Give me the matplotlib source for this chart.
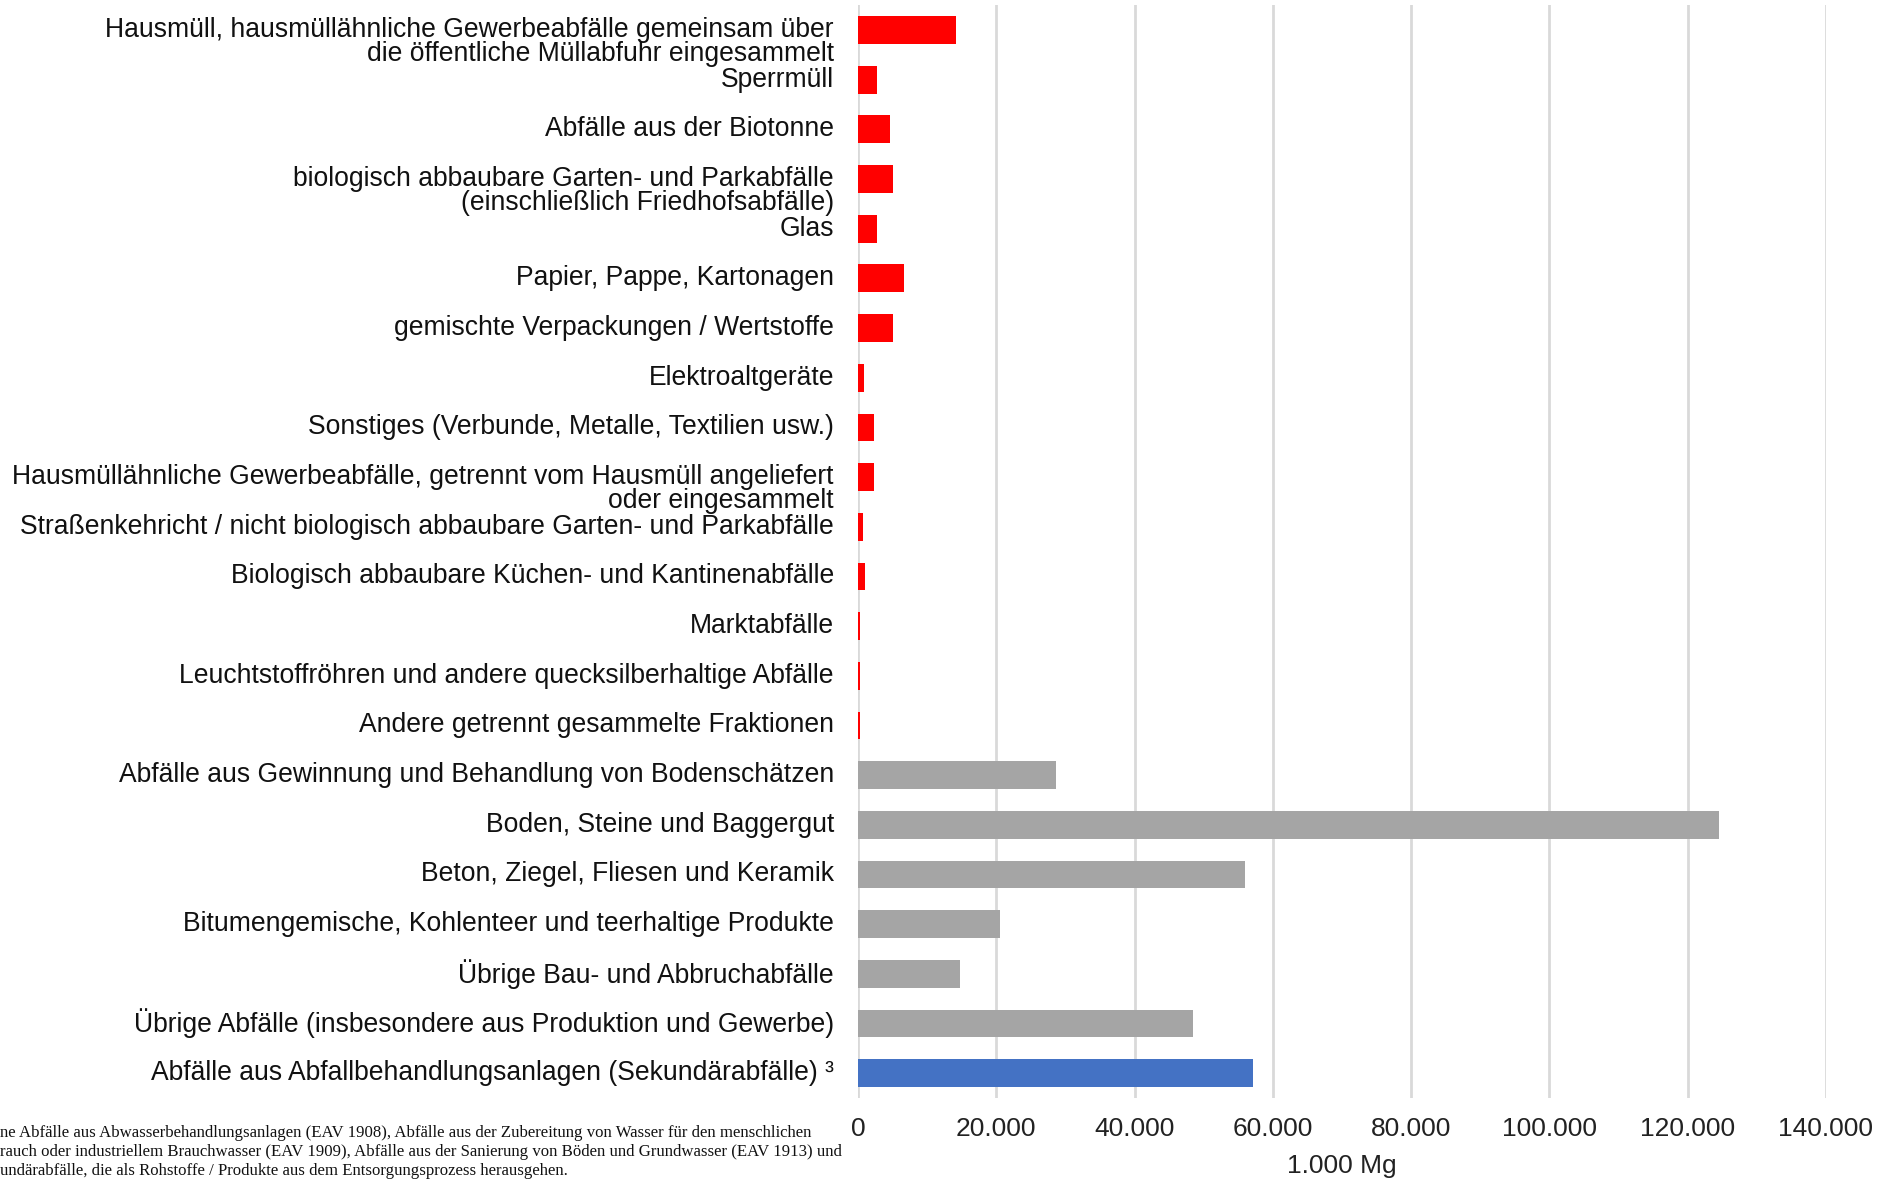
import matplotlib.pyplot as plt
from matplotlib.ticker import FuncFormatter
import matplotlib.transforms as mtransforms

# categories (first line, optional second line)
labels = [
    "Hausmüll, hausmüllähnliche Gewerbeabfälle gemeinsam über\ndie öffentliche Müllabfuhr eingesammelt",
    "Sperrmüll",
    "Abfälle aus der Biotonne",
    "biologisch abbaubare Garten- und Parkabfälle\n(einschließlich Friedhofsabfälle)",
    "Glas",
    "Papier, Pappe, Kartonagen",
    "gemischte Verpackungen / Wertstoffe",
    "Elektroaltgeräte",
    "Sonstiges (Verbunde, Metalle, Textilien usw.)",
    "Hausmüllähnliche Gewerbeabfälle, getrennt vom Hausmüll angeliefert\noder eingesammelt",
    "Straßenkehricht / nicht biologisch abbaubare Garten- und Parkabfälle",
    "Biologisch abbaubare Küchen- und Kantinenabfälle",
    "Marktabfälle",
    "Leuchtstoffröhren und andere quecksilberhaltige Abfälle",
    "Andere getrennt gesammelte Fraktionen",
    "Abfälle aus Gewinnung und Behandlung von Bodenschätzen",
    "Boden, Steine und Baggergut",
    "Beton, Ziegel, Fliesen und Keramik",
    "Bitumengemische, Kohlenteer und teerhaltige Produkte",
    "Übrige Bau- und Abbruchabfälle",
    "Übrige Abfälle (insbesondere aus Produktion und Gewerbe)",
    "Abfälle aus Abfallbehandlungsanlagen (Sekundärabfälle) ³",
]
# 1.000 Mg
values = [14200, 2750, 4700, 5050, 2750, 6600, 5050, 800, 2300, 2300, 700, 1050,
          300, 250, 250, 28600, 124500, 56000, 20600, 14800, 48500, 57100]
groups = ["haus"] * 15 + ["bau"] * 6 + ["sek"]
group_colors = {"haus": "#ff0000", "bau": "#a5a5a5", "sek": "#4472c4"}

footnote = [
    "ne Abfälle aus Abwasserbehandlungsanlagen (EAV 1908), Abfälle aus der Zubereitung von Wasser für den menschlichen",
    "rauch oder industriellem Brauchwasser (EAV 1909), Abfälle aus der Sanierung von Böden und Grundwasser (EAV 1913) und",
    "undärabfälle, die als Rohstoffe / Produkte aus dem Entsorgungsprozess herausgehen.",
]

plt.rcParams["font.family"] = ["Liberation Sans", "DejaVu Sans"]

fig = plt.figure(figsize=(18.94, 11.8), dpi=100)
ax = fig.add_axes([0.453, 0.0695, 0.964 - 0.453, 0.9956 - 0.0695])

y = list(range(len(labels)))
colors = [group_colors[g] for g in groups]
ax.barh(y, values, height=0.56, color=colors, zorder=3)

ax.set_ylim(len(labels) - 0.5, -0.5)
ax.set_xlim(0, 140000)
ax.set_xticks(range(0, 140001, 20000))
ax.xaxis.set_major_formatter(FuncFormatter(lambda v, p: f"{int(v):,}".replace(",", ".")))
ax.tick_params(axis="x", length=0, labelsize=19, pad=14, colors="#222222")
ax.set_yticks([])
ax.grid(axis="x", color="#d9d9d9", linewidth=2, zorder=0)
for s in ax.spines.values():
    s.set_visible(False)
ax.set_xlabel("1.000 Mg", fontsize=19, labelpad=9, color="#222222")

# category labels: first line centred on the bar, second line below
trans = mtransforms.blended_transform_factory(
    ax.transAxes + mtransforms.ScaledTranslation(-24 / 100, 0, fig.dpi_scale_trans), ax.transData)
for i, lab in enumerate(labels):
    for k, line in enumerate(lab.split("\n")):
        ax.text(0, i + 0.49 * k, line, transform=trans, ha="right", va="center",
                fontsize=19.1, color="#111111")

for k, line in enumerate(footnote):
    fig.text(0.0, 1 - (1133 + 19 * k) / 1180, line, ha="left", va="center",
             fontsize=12.1, family=["Liberation Serif", "DejaVu Serif"], color="#111111")

fig.savefig("out.png", dpi=100)
